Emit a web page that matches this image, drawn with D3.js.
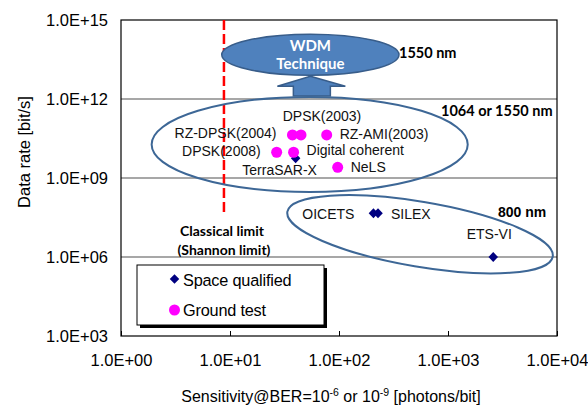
<!DOCTYPE html>
<html>
<head>
<meta charset="utf-8">
<script src="https://cdn.jsdelivr.net/npm/d3@7"></script>
<style>
  body { margin: 0; background: #fff; }
  svg { display: block; font-family: "Liberation Sans", Arial, sans-serif; }
</style>
</head>
<body>
<div id="chart"></div>
<script>
// axis ticks
const xTicks = [1, 10, 100, 1000, 10000];
const yTicks = [1e3, 1e6, 1e9, 1e12, 1e15];

// space qualified (navy diamonds)
const spaceNames = ["TerraSAR-X", "OICETS", "SILEX", "ETS-VI"];
const spaceSens = [40, 207, 228, 2600];
const spaceRate = [5.6e9, 4.6e7, 4.6e7, 1.0e6];

// ground test (magenta circles)
const groundNames = ["RZ-DPSK(2004)", "DPSK(2003)", "RZ-AMI(2003)", "DPSK(2008)", "Digital coherent", "NeLS"];
const groundSens = [37.4, 44.8, 77.1, 26.8, 38.3, 97.3];
const groundRate = [4.3e10, 4.3e10, 4.3e10, 9.5e9, 9.5e9, 2.55e9];

// classical limit
const shannonSens = 8.8;
const shannonRateRange = [4e7, 1e15];

const W = 588, H = 409;
const margin = {left: 121, top: 20, right: 31, bottom: 73};

const svg = d3.select("#chart").append("svg")
    .attr("width", W).attr("height", H);

const x = d3.scaleLog().domain([1, 1e4]).range([margin.left, W - margin.right]);
const y = d3.scaleLog().domain([1e3, 1e15]).range([H - margin.bottom, margin.top]);

const fmt = v => {
    const e = Math.round(Math.log10(v));
    return "1.0E+" + String(e).padStart(2, "0");
};

// gridlines
svg.append("g").selectAll("line")
    .data(yTicks.slice(1, -1)).enter().append("line")
    .attr("x1", x.range()[0]).attr("x2", x.range()[1])
    .attr("y1", d => y(d)).attr("y2", d => y(d))
    .attr("stroke", "#505050").attr("stroke-width", 1.2);

// frame
svg.append("rect")
    .attr("x", x.range()[0]).attr("y", y.range()[1])
    .attr("width", x.range()[1] - x.range()[0])
    .attr("height", y.range()[0] - y.range()[1])
    .attr("fill", "none").attr("stroke", "#000").attr("stroke-width", 1.2);

// x axis (ticks inside)
const xAxis = svg.append("g")
    .attr("transform", `translate(0,${y.range()[0]})`)
    .call(d3.axisBottom(x).tickValues(xTicks).tickSize(-5).tickFormat(fmt).tickPadding(18));
xAxis.select(".domain").remove();
xAxis.selectAll("line").attr("stroke", "#000");
xAxis.selectAll("text").attr("font-size", 16.5).attr("font-family", "Liberation Sans").attr("fill", "#000");

// y axis
const yAxis = svg.append("g")
    .attr("transform", `translate(${x.range()[0]},0)`)
    .call(d3.axisLeft(y).tickValues(yTicks).tickSize(0).tickFormat(fmt).tickPadding(13));
yAxis.select(".domain").remove();
yAxis.selectAll("text").attr("font-size", 16.5).attr("font-family", "Liberation Sans").attr("fill", "#000");

// axis titles
svg.append("text")
    .attr("transform", `translate(24,${152}) rotate(-90)`)
    .attr("text-anchor", "middle").attr("dy", "0.35em")
    .attr("font-size", 16.5).text("Data rate [bit/s]");

const xt = svg.append("text")
    .attr("x", 331).attr("y", 402)
    .attr("text-anchor", "middle").attr("font-size", 16);
xt.append("tspan").text("Sensitivity@BER=10");
xt.append("tspan").attr("font-size", 10.5).attr("dy", -6).text("-6");
xt.append("tspan").attr("dy", 6).text(" or 10");
xt.append("tspan").attr("font-size", 10.5).attr("dy", -6).text("-9");
xt.append("tspan").attr("dy", 6).text(" [photons/bit]");

// classical limit line
svg.append("line")
    .attr("x1", x(shannonSens)).attr("x2", x(shannonSens))
    .attr("y1", y(shannonRateRange[1])).attr("y2", y(shannonRateRange[0]))
    .attr("stroke", "#ff0000").attr("stroke-width", 2.5)
    .attr("stroke-dasharray", "10,4");

const calibri = "Lato, 'Open Sans', sans-serif";
const lim = svg.append("g").attr("font-family", calibri).attr("font-weight", "bold")
    .attr("font-size", 14).attr("text-anchor", "middle");
lim.append("text").attr("x", 222).attr("y", 231).attr("dy", "0.35em").text("Classical limit");
lim.append("text").attr("x", 224).attr("y", 250).attr("dy", "0.35em").text("(Shannon limit)");

// WDM ellipse and arrow
const wdm = {x0: 8.4, x1: 355, y0: Math.pow(10, 12.9), y1: Math.pow(10, 14.46)};
const wcx = (x(wdm.x0) + x(wdm.x1)) / 2, wcy = (y(wdm.y0) + y(wdm.y1)) / 2;
const wrx = (x(wdm.x1) - x(wdm.x0)) / 2, wry = (y(wdm.y0) - y(wdm.y1)) / 2;

const tipY = wcy + wry + 1, baseY = tipY + 10, shaftY = y(1e12) - 3;
svg.append("path")
    .attr("d", `M${wcx},${tipY} L${wcx + 35},${baseY} L${wcx + 20},${baseY} L${wcx + 20},${shaftY}` +
               ` L${wcx - 17},${shaftY} L${wcx - 17},${baseY} L${wcx - 33},${baseY} Z`)
    .attr("fill", "#4f81bd").attr("stroke", "#385d8a").attr("stroke-width", 1.5);

svg.append("ellipse")
    .attr("cx", wcx).attr("cy", wcy).attr("rx", wrx).attr("ry", wry)
    .attr("fill", "#4f81bd").attr("stroke", "#385d8a").attr("stroke-width", 1.5);

const wt = svg.append("g").attr("font-family", calibri).attr("font-weight", "bold")
    .attr("font-size", 15).attr("fill", "#fff").attr("text-anchor", "middle");
wt.append("text").attr("x", wcx).attr("y", wcy - 9).attr("dy", "0.35em").text("WDM");
wt.append("text").attr("x", wcx).attr("y", wcy + 9).attr("dy", "0.35em").text("Technique");

// group ellipses
const bigE = {x0: 1.91, x1: 1517, y0: Math.pow(10, 8.47), y1: Math.pow(10, 12.08)};
svg.append("ellipse")
    .attr("cx", (x(bigE.x0) + x(bigE.x1)) / 2).attr("cy", (y(bigE.y0) + y(bigE.y1)) / 2)
    .attr("rx", (x(bigE.x1) - x(bigE.x0)) / 2).attr("ry", (y(bigE.y0) - y(bigE.y1)) / 2)
    .attr("fill", "none").attr("stroke", "#3d6796").attr("stroke-width", 2);

const lowE = {xa: 33.6, ya: Math.pow(10, 7.72), xb: 9135, yb: Math.pow(10, 6.01), minor: 32.5};
{
    const ax = x(lowE.xa), ay = y(lowE.ya), bx = x(lowE.xb), by = y(lowE.yb);
    const ang = Math.atan2(by - ay, bx - ax) * 180 / Math.PI;
    const len = Math.hypot(bx - ax, by - ay) / 2;
    svg.append("ellipse")
        .attr("transform", `translate(${(ax + bx) / 2},${(ay + by) / 2}) rotate(${ang})`)
        .attr("rx", len).attr("ry", lowE.minor)
        .attr("fill", "none").attr("stroke", "#3d6796").attr("stroke-width", 2);
}

// wavelength labels
const wl = svg.append("g").attr("font-family", calibri).attr("font-weight", "bold").attr("font-size", 14.5);
wl.append("text").attr("x", 399).attr("y", 53).attr("dy", "0.35em").text("1550 nm");
wl.append("text").attr("x", 441).attr("y", 111).attr("dy", "0.35em").text("1064 or 1550 nm");
svg.append("text").attr("x", 498).attr("y", 212).attr("dy", "0.35em")
    .attr("font-weight", "bold").attr("font-size", 14).text("800 nm");

// points
const diamond = d3.symbol().type(d3.symbolDiamond2).size(58);
const space = spaceNames.map((n, i) => ({name: n, sx: spaceSens[i], ry: spaceRate[i]}));
const ground = groundNames.map((n, i) => ({name: n, sx: groundSens[i], ry: groundRate[i]}));

svg.append("g").selectAll("path").data(space).enter().append("path")
    .attr("transform", d => `translate(${x(d.sx)},${y(d.ry)}) scale(1,1.05)`)
    .attr("d", diamond).attr("fill", "#000080");

svg.append("g").selectAll("circle").data(ground).enter().append("circle")
    .attr("cx", d => x(d.sx)).attr("cy", d => y(d.ry)).attr("r", 5.5)
    .attr("fill", "#ff00ff");

// data label placement (pixel offsets from the point)
const labelPos = {
    "RZ-DPSK(2004)": [-16, -2, "end"],
    "DPSK(2003)": [21, -19, "middle"],
    "RZ-AMI(2003)": [13, -1, "start"],
    "DPSK(2008)": [-16, -1, "end"],
    "Digital coherent": [13, -2, "start"],
    "NeLS": [13, 0, "start"],
    "TerraSAR-X": [-16, 12, "middle"],
    "OICETS": [-19, 1, "end"],
    "SILEX": [13, 1, "start"],
    "ETS-VI": [-4, -23, "middle"]
};
svg.append("g").selectAll("text").data(ground.concat(space)).enter().append("text")
    .attr("x", d => x(d.sx) + labelPos[d.name][0])
    .attr("y", d => y(d.ry) + labelPos[d.name][1])
    .attr("text-anchor", d => labelPos[d.name][2])
    .attr("dy", "0.35em").attr("font-size", 14).attr("fill", "#111")
    .text(d => d.name);

// legend
const lg = svg.append("g").attr("transform", "translate(137,265)");
lg.append("rect").attr("x", 3).attr("y", 3).attr("width", 187).attr("height", 60).attr("fill", "#000");
lg.append("rect").attr("width", 187).attr("height", 60).attr("fill", "#fff")
    .attr("stroke", "#000").attr("stroke-width", 1);
lg.append("path").attr("transform", "translate(37.5,14)").attr("d", diamond).attr("fill", "#000080");
lg.append("circle").attr("cx", 37.5).attr("cy", 45).attr("r", 5.5).attr("fill", "#ff00ff");
lg.append("text").attr("x", 46).attr("y", 15).attr("dy", "0.35em").attr("font-size", 16.3)
    .attr("letter-spacing", -0.2).text("Space qualified");
lg.append("text").attr("x", 46).attr("y", 45).attr("dy", "0.35em").attr("font-size", 16.3)
    .attr("letter-spacing", -0.2).text("Ground test");
</script>
</body>
</html>
